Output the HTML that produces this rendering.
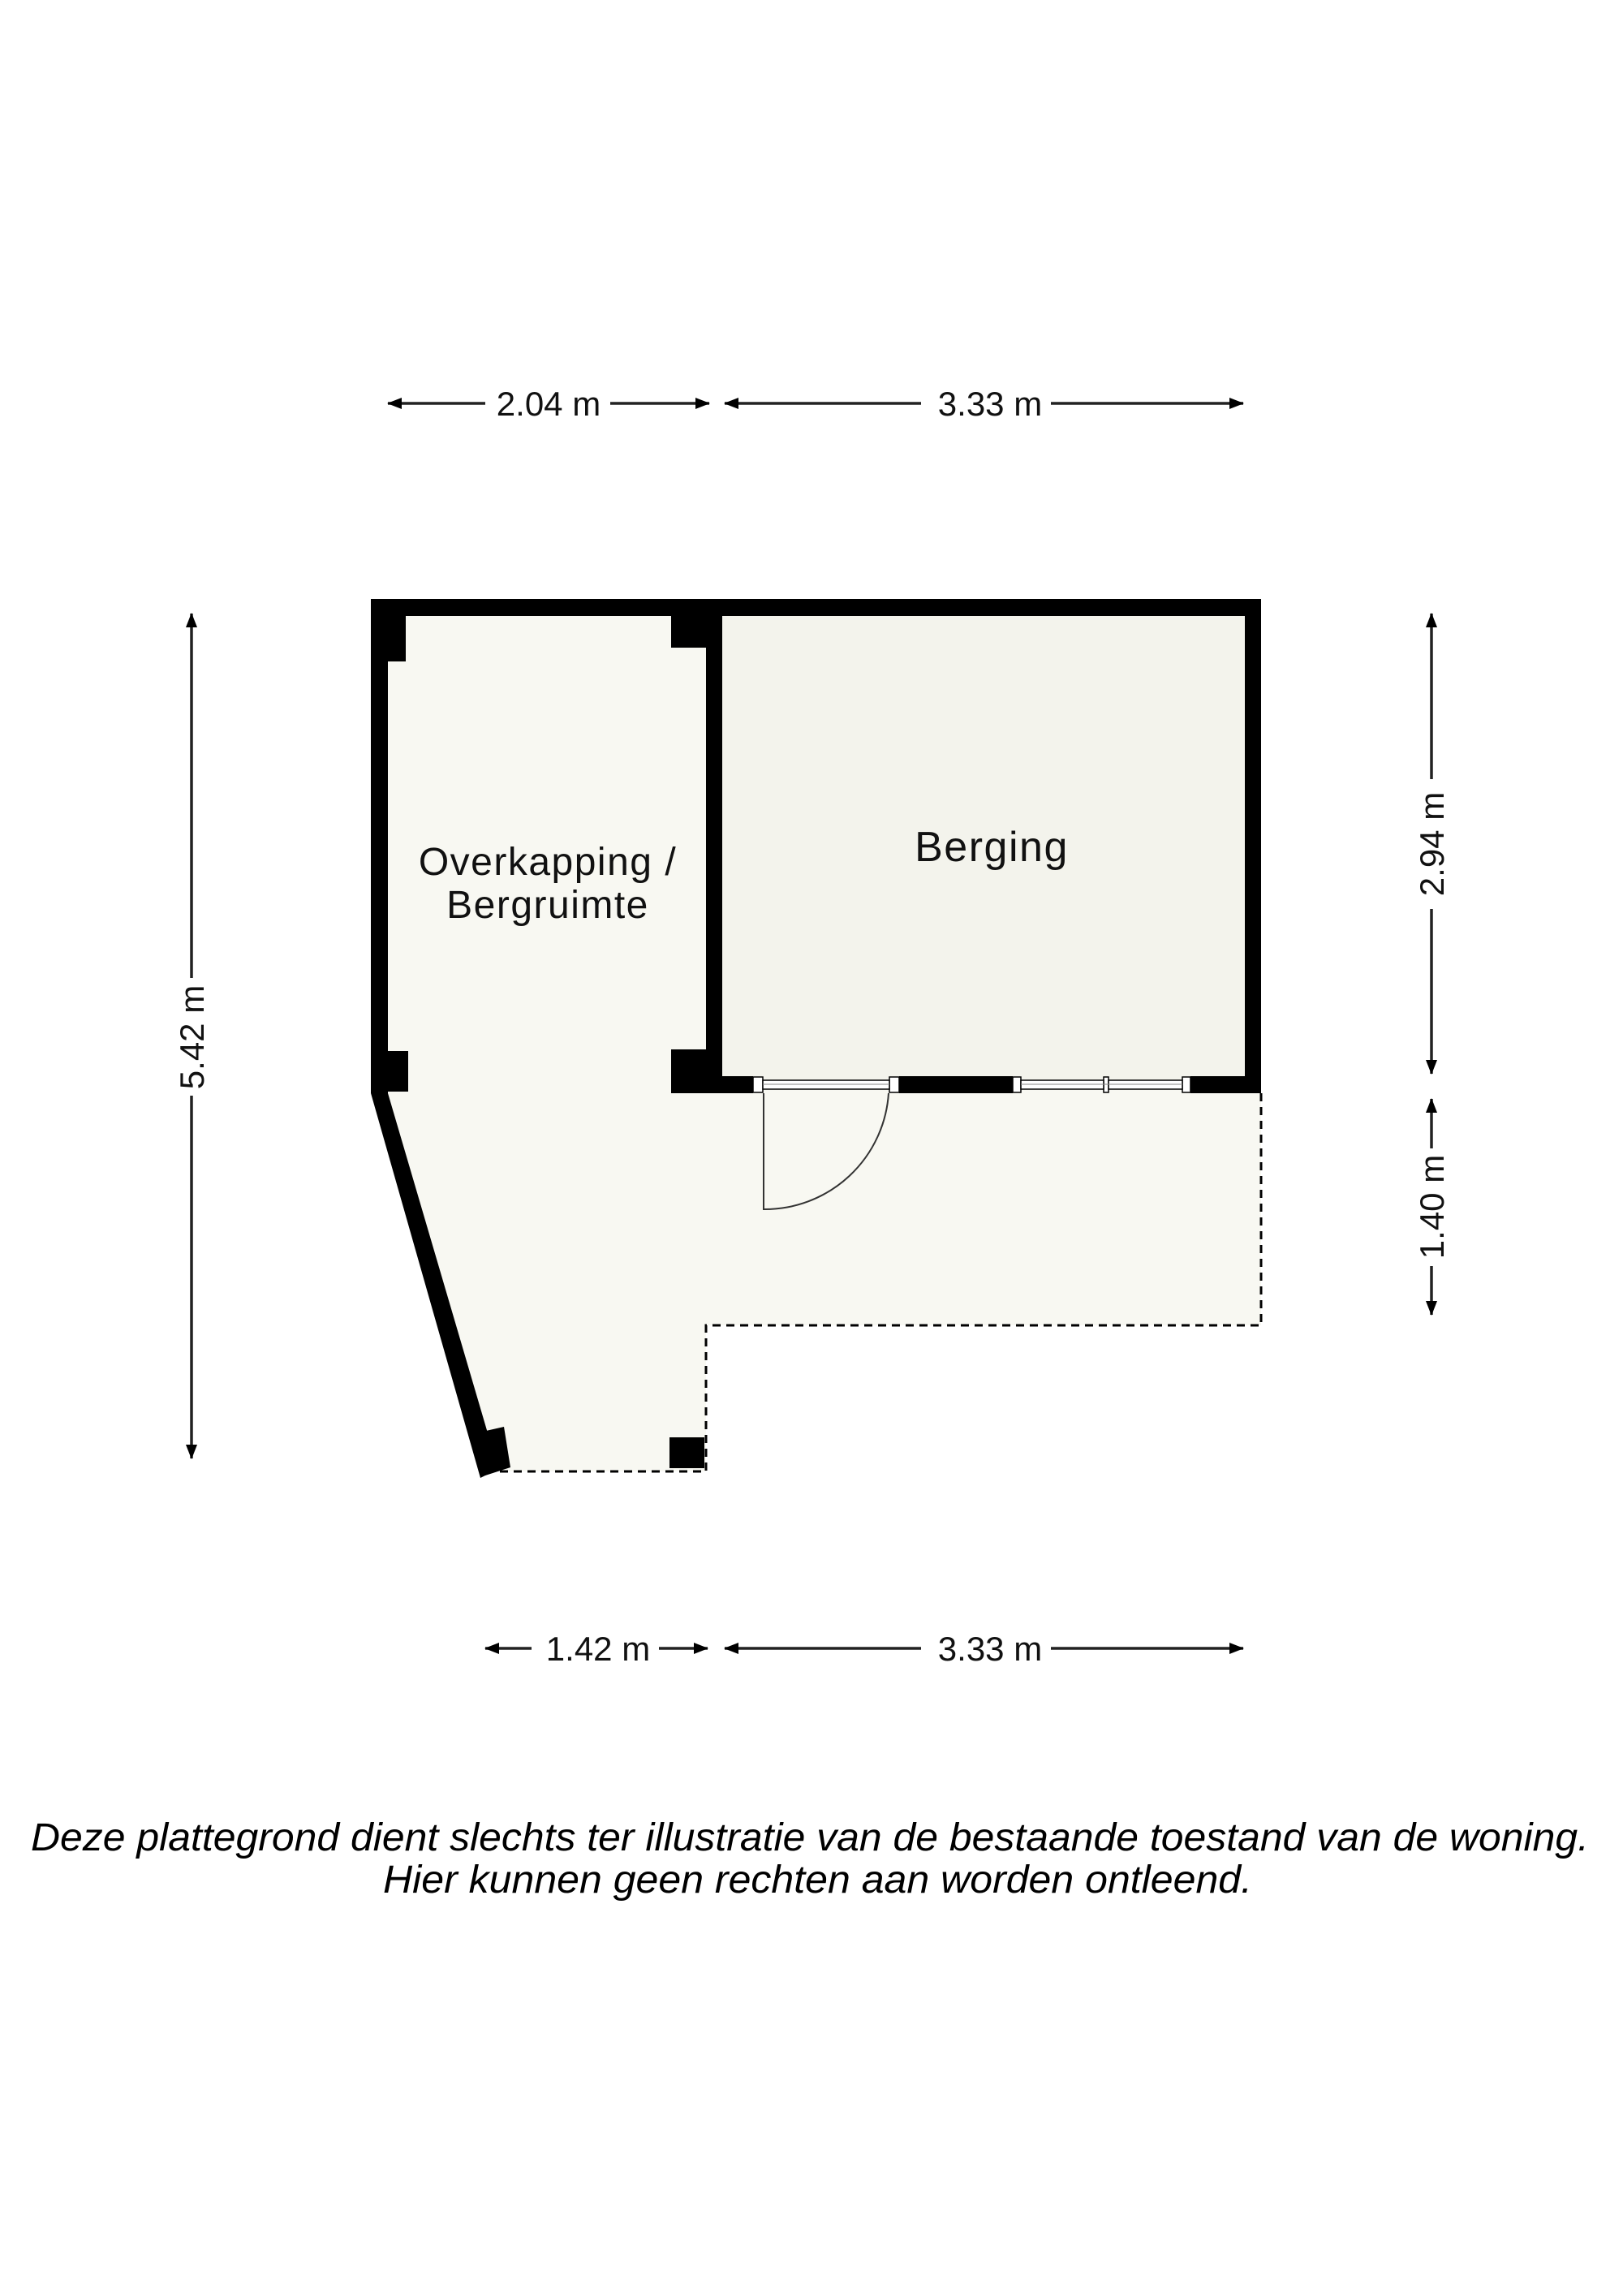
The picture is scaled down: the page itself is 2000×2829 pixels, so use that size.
<!DOCTYPE html>
<html><head><meta charset="utf-8"><style>html,body{margin:0;padding:0;background:#fff}svg{display:block}</style></head>
<body>
<svg width="2000" height="2829" viewBox="0 0 2000 2829" xmlns="http://www.w3.org/2000/svg" font-family="Liberation Sans, Arial, sans-serif">
<rect width="2000" height="2829" fill="#fff"/>
<polygon points="467,748 880,748 880,1337 1554,1337 1554,1633 870,1633 870,1813 598,1813 467,1347" fill="#f8f8f2"/>
<rect x="880" y="748" width="664" height="589" fill="#f3f3ec"/>
<rect x="457" y="738" width="1097" height="21" fill="#000"/>
<rect x="457" y="738" width="21" height="609" fill="#000"/>
<rect x="1534" y="738" width="20" height="609" fill="#000"/>
<rect x="870" y="738" width="20" height="609" fill="#000"/>
<polygon points="457,1347 478,1347 614,1810 592,1821" fill="#000"/>
<rect x="478" y="759" width="22" height="56" fill="#000"/>
<rect x="827" y="759" width="43" height="39" fill="#000"/>
<rect x="827" y="1293" width="43" height="54" fill="#000"/>
<rect x="478" y="1295" width="25" height="50" fill="#000"/>
<rect x="825" y="1771" width="43" height="38" fill="#000"/>
<polygon points="590,1765 621,1758 629,1808 598,1818" fill="#000"/>
<rect x="870" y="1326" width="58" height="21" fill="#000"/>
<rect x="1108" y="1326" width="140" height="21" fill="#000"/>
<rect x="1467" y="1326" width="87" height="21" fill="#000"/>
<g fill="#fff" stroke="#000" stroke-width="1.5">
<rect x="928" y="1327" width="12" height="19"/><rect x="1096" y="1327" width="12" height="19"/>
<rect x="940" y="1331" width="156" height="11"/>
<rect x="1248" y="1327" width="10" height="19"/><rect x="1457" y="1327" width="10" height="19"/>
<rect x="1360" y="1327" width="6" height="19"/>
<rect x="1258" y="1331" width="102" height="11"/><rect x="1366" y="1331" width="91" height="11"/>
</g>
<g stroke="#888" stroke-width="1"><line x1="940" y1="1336" x2="1096" y2="1336"/><line x1="1258" y1="1336" x2="1457" y2="1336"/></g>
<path d="M941,1347 V1490 A153,153 0 0 0 1095,1347" fill="none" stroke="#333" stroke-width="2"/>
<g stroke="#000" stroke-width="3" stroke-dasharray="10,7" fill="none">
<polyline points="1554,1347 1554,1633 870,1633 870,1813 605,1813"/>
</g>
<g font-size="48" fill="#111" text-anchor="middle" letter-spacing="1.5">
<text x="1222" y="1061" font-size="52">Berging</text>
<text x="675" y="1078">Overkapping /</text>
<text x="675" y="1131">Bergruimte</text>
</g>
<defs>
<marker id="a" markerWidth="18" markerHeight="14" refX="17" refY="7" orient="auto" markerUnits="userSpaceOnUse" viewBox="0 0 18 14"><path d="M0,0 L18,7 L0,14z" fill="#000"/></marker>
</defs>
<g stroke="#222" stroke-width="3.5" fill="none">
<line x1="598" y1="497" x2="478" y2="497" marker-end="url(#a)"/>
<line x1="752" y1="497" x2="874" y2="497" marker-end="url(#a)"/>
<line x1="1135" y1="497" x2="893" y2="497" marker-end="url(#a)"/>
<line x1="1295" y1="497" x2="1532" y2="497" marker-end="url(#a)"/>
<line x1="655" y1="2031" x2="598" y2="2031" marker-end="url(#a)"/>
<line x1="812" y1="2031" x2="872" y2="2031" marker-end="url(#a)"/>
<line x1="1135" y1="2031" x2="893" y2="2031" marker-end="url(#a)"/>
<line x1="1295" y1="2031" x2="1532" y2="2031" marker-end="url(#a)"/>
<line x1="236" y1="1205" x2="236" y2="756" marker-end="url(#a)"/>
<line x1="236" y1="1350" x2="236" y2="1797" marker-end="url(#a)"/>
<line x1="1764" y1="960" x2="1764" y2="756" marker-end="url(#a)"/>
<line x1="1764" y1="1120" x2="1764" y2="1323" marker-end="url(#a)"/>
<line x1="1764" y1="1415" x2="1764" y2="1354" marker-end="url(#a)"/>
<line x1="1764" y1="1560" x2="1764" y2="1620" marker-end="url(#a)"/>
</g>
<g font-size="42" fill="#111" text-anchor="middle">
<text x="676" y="512">2.04 m</text>
<text x="1220" y="512">3.33 m</text>
<text x="737" y="2046">1.42 m</text>
<text x="1220" y="2046">3.33 m</text>
<text transform="translate(251,1278) rotate(-90)">5.42 m</text>
<text transform="translate(1779,1040) rotate(-90)">2.94 m</text>
<text transform="translate(1779,1487) rotate(-90)">1.40 m</text>
</g>
<g font-size="48" font-style="italic" fill="#000">
<text x="38" y="2280" textLength="1920" lengthAdjust="spacingAndGlyphs">Deze plattegrond dient slechts ter illustratie van de bestaande toestand van de woning.</text>
<text x="472" y="2332" textLength="1071" lengthAdjust="spacingAndGlyphs">Hier kunnen geen rechten aan worden ontleend.</text>
</g>
</svg>
</body></html>
